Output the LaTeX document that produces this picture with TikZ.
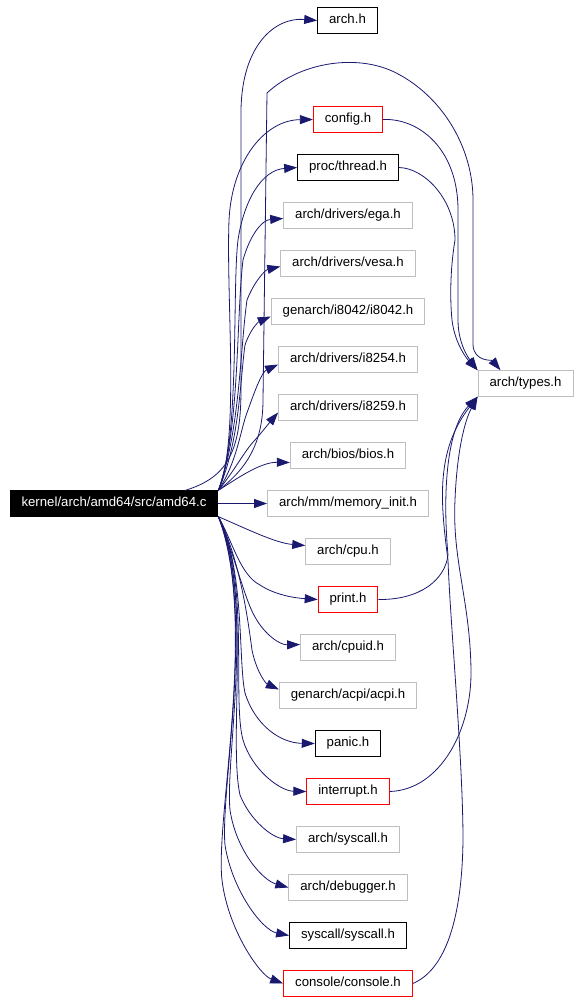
\documentclass[tikz,border=0pt]{standalone}
\usepackage{fontspec}
\setmainfont{Liberation Sans}
\usetikzlibrary{arrows.meta,positioning}
\definecolor{edgeblue}{HTML}{191970}
\definecolor{boxgray}{HTML}{BFBFBF}
\definecolor{boxred}{HTML}{FF0000}

\tikzset{
  file/.style={draw, rectangle, line width=0.9pt, minimum height=25.5pt, inner xsep=11.5pt, inner ysep=0pt,
    text height=9.6pt, text depth=2.7pt, font=\fontsize{13.2}{15}\selectfont},
  grayfile/.style={file, draw=boxgray},
  redfile/.style={file, draw=boxred},
  blackfile/.style={file, draw=black},
  dep/.style={->, >={Triangle[length=13pt,width=9pt]}, line width=0.8pt, edgeblue},
}

\begin{document}
\begin{tikzpicture}[x=1pt, y=-1pt, node distance=48pt]
\useasboundingbox (0,0) rectangle (580,1002);

\node[file, fill=black, text=white] (main) at (114,503.5) {kernel/arch/amd64/src/amd64.c};

\node[blackfile] (arch) at (347.5,20.5) {arch.h};
\node[redfile] (config) at (348,119.5) {config.h};
\node[blackfile, below of=config] (thread) {proc/thread.h};
\node[grayfile, below of=thread] (ega) {arch/drivers/ega.h};
\node[grayfile, below of=ega] (vesa) {arch/drivers/vesa.h};
\node[grayfile, below of=vesa] (i8042) {genarch/i8042/i8042.h};
\node[grayfile, below of=i8042] (i8254) {arch/drivers/i8254.h};
\node[grayfile, below of=i8254] (i8259) {arch/drivers/i8259.h};
\node[grayfile, below of=i8259] (bios) {arch/bios/bios.h};
\node[grayfile, below of=bios] (meminit) {arch/mm/memory\_init.h};
\node[grayfile, below of=meminit] (cpu) {arch/cpu.h};
\node[redfile, below of=cpu] (print) {print.h};
\node[grayfile, below of=print] (cpuid) {arch/cpuid.h};
\node[grayfile, below of=cpuid] (acpi) {genarch/acpi/acpi.h};
\node[blackfile, below of=acpi] (panic) {panic.h};
\node[redfile, below of=panic] (intr) {interrupt.h};
\node[grayfile, below of=intr] (asys) {arch/syscall.h};
\node[grayfile, below of=asys] (dbg) {arch/debugger.h};
\node[blackfile, below of=dbg] (sys) {syscall/syscall.h};
\node[redfile, below of=sys] (cons) {console/console.h};

\node[grayfile] (types) at (525.5,383.5) {arch/types.h};

% upper fan
\draw [dep] ([xshift=-33pt]main.north east) .. controls (225,478) and (241,455) .. (241,390) -- (241,110) .. controls (242,45) and (275,17) .. (arch.west);
\draw [dep] (main.north east) .. controls (245,470) and (263,445) .. (263,400) -- (267,93) .. controls (300,62) and (360,52) .. (400,75) .. controls (445,100) and (473,150) .. (473,200) -- (473,345) .. controls (474,362) and (492,360) .. ([xshift=-25pt]types.north);
\draw [dep] (main.north east) .. controls (240,440) and (226,300) .. (229,220) .. controls (232,160) and (265,120) .. (config.west);
\draw [dep] (main.north east) .. controls (240,440) and (232,290) .. (238,240) .. controls (244,200) and (262,170) .. (thread.west);
\draw [dep] (main.north east) .. controls (240,430) and (236,320) .. (243,260) .. controls (250,235) and (262,220) .. ([yshift=-3pt]ega.west);
\draw [dep] (main.north east) .. controls (240,430) and (240,350) .. (247,300) .. controls (254,282) and (265,270) .. ([yshift=-3pt]vesa.west);
\draw [dep] (main.north east) .. controls (240,440) and (240,380) .. (245,345) .. controls (250,330) and (258,322) .. ([yshift=-5pt]i8042.west);
\draw [dep] (main.north east) .. controls (238,460) and (240,430) .. (248,410) .. controls (255,390) and (262,372) .. ([yshift=-5pt]i8254.west);
\draw [dep] (main.north east) .. controls (235,470) and (245,450) .. (255,440) .. controls (262,432) and (270,422) .. ([yshift=-5pt]i8259.west);
\draw [dep] (main.north east) .. controls (235,480) and (260,462) .. ([yshift=-7pt]bios.west);
\draw [dep] (main.east) -- (meminit.west);

% lower fan
\draw [dep] (main.south east) .. controls (245,528) and (275,543) .. ([yshift=6pt]cpu.west);
\draw [dep] (main.south east) .. controls (232,540) and (240,575) .. (260,585) .. controls (275,595) and (295,598) .. (print.west);
\draw [dep] (main.south east) .. controls (236,560) and (245,600) .. (255,617) .. controls (265,635) and (280,645) .. ([yshift=3pt]cpuid.west);
\draw [dep] (main.south east) .. controls (240,560) and (248,620) .. (252,650) .. controls (256,670) and (265,683) .. ([yshift=6pt]acpi.west);
\draw [dep] (main.south east) .. controls (245,570) and (238,660) .. (245,693) .. controls (255,725) and (280,743) .. (panic.west);
\draw [dep] (main.south east) .. controls (250,580) and (232,700) .. (243,740) .. controls (252,770) and (280,791) .. (intr.west);
\draw [dep] (main.south east) .. controls (252,590) and (228,740) .. (240,795) .. controls (250,820) and (272,838) .. (asys.west);
\draw [dep] (main.south east) .. controls (255,600) and (225,760) .. (230,810) .. controls (236,850) and (262,880) .. (dbg.west);
\draw [dep] (main.south east) .. controls (256,610) and (220,790) .. (225,845) .. controls (232,890) and (262,930) .. (sys.west);
\draw [dep] (main.south east) .. controls (258,620) and (215,820) .. (222,880) .. controls (228,930) and (260,975) .. (cons.west);

% into types
\draw [dep] (config.east) .. controls (420,118) and (458,150) .. (458,210) -- (458,320) .. controls (458,345) and (470,360) .. (types.north west);
\draw [dep] (thread.east) .. controls (425,168) and (455,200) .. (455,240) .. controls (450,270) and (450,300) .. (452,320) .. controls (455,345) and (468,360) .. (types.north west);
\draw [dep] (print.east) .. controls (420,600) and (445,580) .. (448,555) .. controls (443,500) and (445,430) .. (types.south west);
\draw [dep] (intr.east) .. controls (440,790) and (472,730) .. (471,670) .. controls (470,600) and (452,560) .. (455,500) .. controls (457,450) and (465,420) .. (types.south west);
\draw [dep] (cons.east) .. controls (445,970) and (462,920) .. (463,840) .. controls (463,760) and (450,620) .. (448,560) .. controls (440,500) and (436,450) .. (types.south west);
\end{tikzpicture}
\end{document}
